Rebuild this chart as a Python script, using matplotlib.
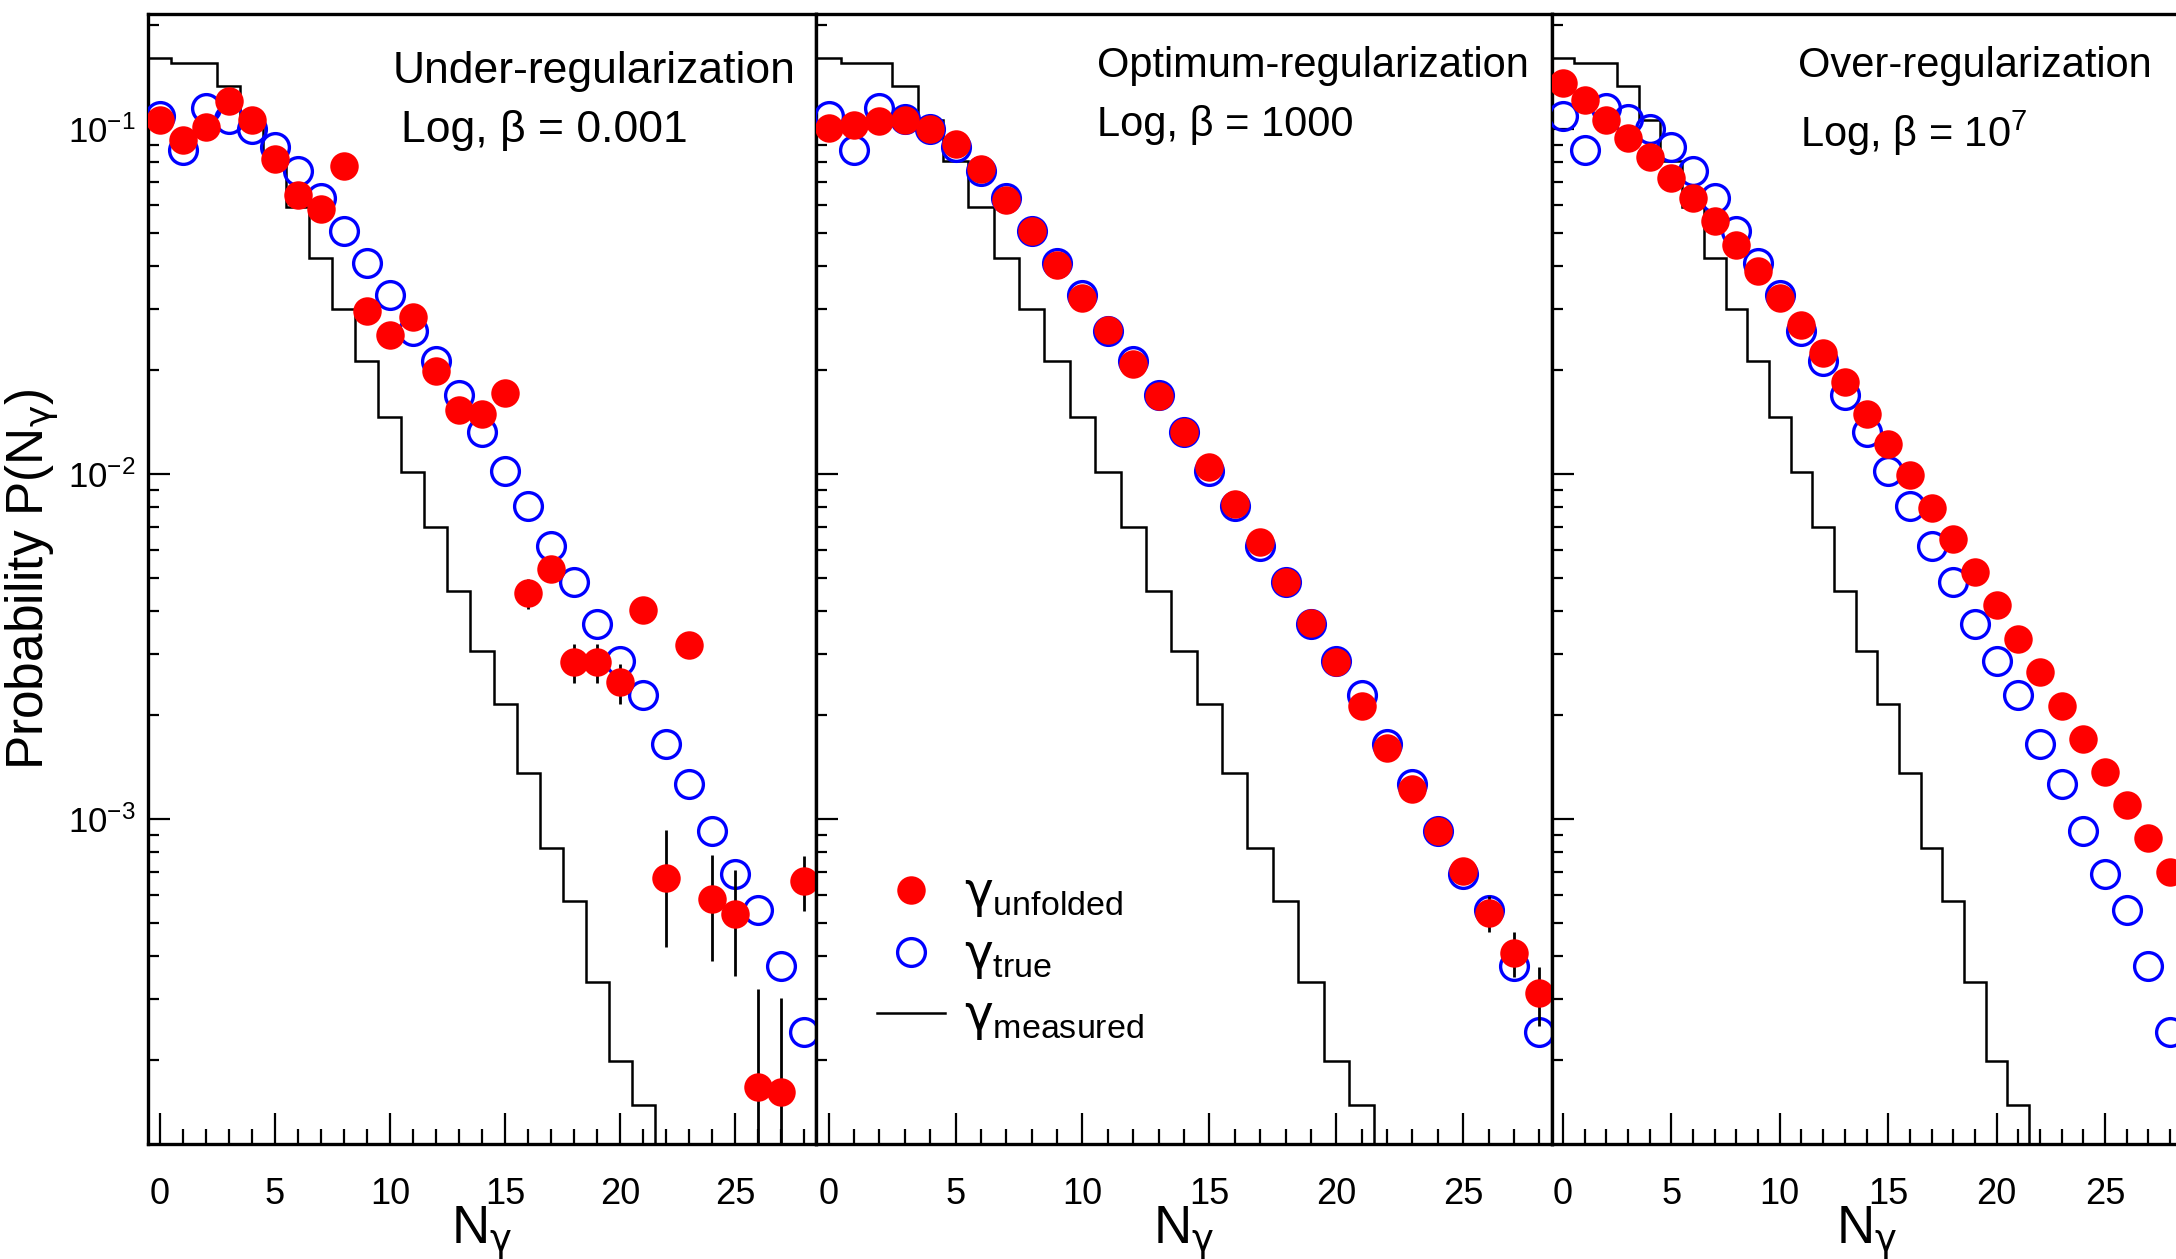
import numpy as np
import matplotlib
matplotlib.use("Agg")
import matplotlib.pyplot as plt
from matplotlib.ticker import LogLocator, MultipleLocator, LogFormatterMathtext, NullFormatter

plt.rcParams['font.family'] = ['Liberation Sans', 'DejaVu Sans']
plt.rcParams['mathtext.fontset'] = 'custom'
plt.rcParams['mathtext.rm'] = 'Liberation Sans'
# greek letters in math mode come from the "it" slot -> upright DejaVu for a real gamma
plt.rcParams['mathtext.it'] = 'DejaVu Sans'
plt.rcParams['mathtext.bf'] = 'Liberation Sans:bold'
plt.rcParams['mathtext.sf'] = 'Liberation Sans'
plt.rcParams['axes.unicode_minus'] = False

# N_gamma bins
n_gamma = np.arange(29)

# measured distribution (histogram, bins 0..22)
measured = [0.160, 0.155, 0.155, 0.133, 0.106, 0.0807, 0.0593, 0.0423, 0.0300,
            0.0213, 0.0146, 0.0101, 0.00703, 0.00457, 0.00306, 0.00216, 0.00136,
            0.000826, 0.000580, 0.000336, 0.000199, 0.000148, 0.00008]

# true distribution
true_vals = [0.109, 0.0867, 0.115, 0.107, 0.0997, 0.0885, 0.0755, 0.0628, 0.0506,
             0.0409, 0.0329, 0.0259, 0.0213, 0.0169, 0.0132, 0.0102, 0.00809,
             0.00619, 0.00486, 0.00367, 0.00286, 0.00229, 0.00165, 0.00126,
             0.000922, 0.000691, 0.000546, 0.000376, 0.000242]

# unfolded, beta = 0.001
unf_under = [0.1057, 0.0929, 0.101, 0.120, 0.106, 0.0818, 0.0644, 0.0587, 0.0780,
             0.0296, 0.0253, 0.0284, 0.0199, 0.0153, 0.0149, 0.0171, 0.00452,
             0.00531, 0.00284, 0.00284, 0.00249, 0.00404, 0.000676, 0.00320,
             0.000588, 0.000530, 0.000167, 0.000162, 0.000662]
err_under = [0, 0, 0, 0, 0, 0, 0, 0, 0, 0, 0, 0, 0, 0, 0, 0, 0.00045,
             0, 0.00037, 0.00037, 0.00033, 0, 0.00025, 0,
             0.0002, 0.00018, 0.000155, 0.00014, 0.00012]

# unfolded, beta = 1000
unf_opt = [0.1005, 0.1023, 0.105, 0.106, 0.0997, 0.0904, 0.0765, 0.0620, 0.0504,
           0.0403, 0.0323, 0.0261, 0.0208, 0.0168, 0.0132, 0.0105, 0.00817,
           0.00636, 0.00486, 0.00369, 0.00284, 0.00213, 0.00161, 0.00122,
           0.000925, 0.000707, 0.000533, 0.000409, 0.000312]
err_opt = [0] * 26 + [0.000064, 0.00006, 0.00006]

# unfolded, beta = 1e7
unf_over = [0.136, 0.121, 0.106, 0.0938, 0.0827, 0.0720, 0.0628, 0.0540, 0.0460,
            0.0386, 0.0324, 0.0270, 0.0224, 0.0184, 0.0149, 0.0122, 0.00990,
            0.00798, 0.00646, 0.00519, 0.00418, 0.00333, 0.00267, 0.00213,
            0.00171, 0.00137, 0.00110, 0.000879, 0.000703]

panel_titles = ["Under-regularization", "Optimum-regularization", "Over-regularization"]
panel_betas = ["Log, β = 0.001", "Log, β = 1000", r"Log, β = 10$^{7}$"]
unfolded = [unf_under, unf_opt, unf_over]
errors = [err_under, err_opt, None]

W, H = 2176, 1259
fig = plt.figure(figsize=(W / 100, H / 100), dpi=100)

# panel pixel boxes (left, right), common top/bottom
boxes = [(148, 816), (816, 1552), (1552, 2181)]
top_px, bot_px = 14, 1144
text_pos = [((393, 83), (401, 142)), ((1097, 77), (1097, 136)), ((1798, 77), (1800, 147))]
text_size = [32, 30, 30]

edges = np.arange(len(measured) + 1) - 0.5
axes = []
for i, (l, r) in enumerate(boxes):
    ax = fig.add_axes([l / W, 1 - bot_px / H, (r - l) / W, (bot_px - top_px) / H])
    ax.set_yscale('log')
    ax.set_xlim(-0.5, 28.5)
    ax.set_ylim(1.143e-4, 0.215)

    ax.stairs(measured, edges, color='black', lw=1.8, baseline=None, zorder=2)
    ax.plot(n_gamma, true_vals, 'o', ms=20, mfc='none', mec='#0000ff', mew=2.4,
            zorder=3, label=r'$\gamma_{\mathregular{true}}$')
    if errors[i] is not None:
        ax.errorbar(n_gamma, unfolded[i], yerr=errors[i], fmt='none',
                    ecolor='black', elinewidth=2, capsize=0, zorder=4)
    ax.plot(n_gamma, unfolded[i], 'o', ms=20.5, mfc='#ff0000', mec='#ff0000', mew=0,
            zorder=5, label=r'$\gamma_{\mathregular{unfolded}}$')

    ax.xaxis.set_major_locator(MultipleLocator(5))
    ax.xaxis.set_minor_locator(MultipleLocator(1))
    ax.yaxis.set_major_locator(LogLocator(base=10))
    ax.yaxis.set_minor_locator(LogLocator(base=10, subs=np.arange(2, 10)))
    ax.yaxis.set_minor_formatter(NullFormatter())
    ax.yaxis.set_major_formatter(LogFormatterMathtext())

    ax.tick_params(axis='x', which='major', direction='in', length=22, width=1.6,
                   top=False, labelsize=26, pad=24)
    ax.tick_params(axis='x', which='minor', direction='in', length=11, width=1.6, top=False)
    ax.tick_params(axis='y', which='major', direction='in', length=16, width=1.6,
                   right=False, labelsize=25, pad=9)
    ax.tick_params(axis='y', which='minor', direction='in', length=8, width=1.6, right=False)
    if i > 0:
        ax.tick_params(axis='y', labelleft=False)
    for s in ax.spines.values():
        s.set_linewidth(2.4)

    ax.set_xlabel(r'$\mathregular{N}_{\gamma}$', fontsize=38, labelpad=-5)

    (tx, ty), (bx, by) = text_pos[i]
    fig.text(tx / W, 1 - ty / H, panel_titles[i], fontsize=text_size[i], ha='left', va='baseline')
    fig.text(bx / W, 1 - by / H, panel_betas[i], fontsize=text_size[i], ha='left', va='baseline')
    axes.append(ax)

axes[0].set_ylabel(r'Probability P($\mathregular{N}_{\gamma}$)', fontsize=37, labelpad=6)

# legend in the middle panel
h, lab = axes[1].get_legend_handles_labels()
step_handle = plt.Line2D([], [], color='black', lw=1.8)
axes[1].legend([h[1], h[0], step_handle],
               [lab[1], lab[0], r'$\gamma_{\mathregular{measured}}$'],
               loc='upper left', bbox_to_anchor=(877 / W, 1 - 872 / H),
               bbox_transform=fig.transFigure, frameon=False, fontsize=35,
               handlelength=1.4, handletextpad=0.4, labelspacing=0.3,
               borderpad=0, borderaxespad=0)

fig.savefig("out.png", dpi=100)
